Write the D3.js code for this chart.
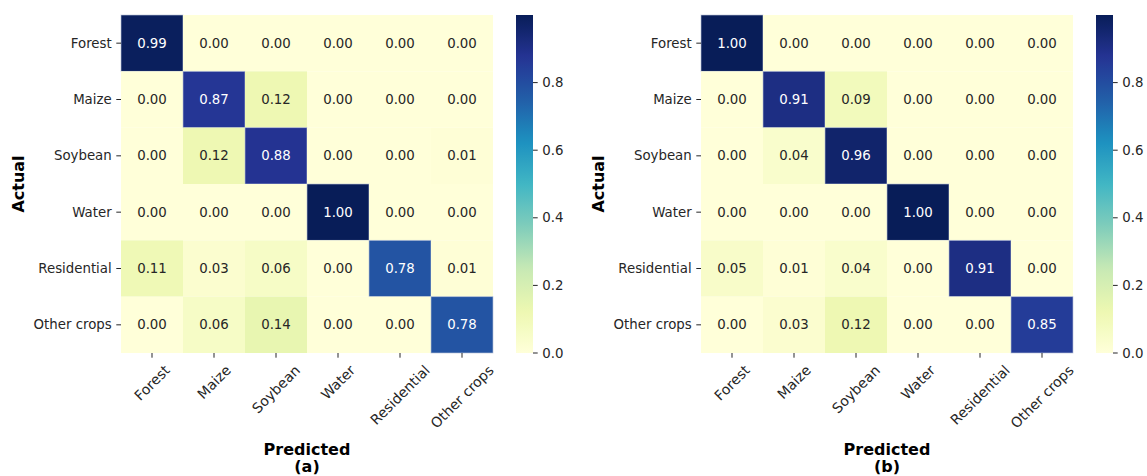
<!DOCTYPE html>
<html>
<head>
<meta charset="utf-8">
<script src="https://cdn.jsdelivr.net/npm/d3@7"></script>
<style>
  html, body { margin: 0; padding: 0; background: #ffffff; }
  svg { display: block; font-family: "DejaVu Sans", sans-serif; }
</style>
</head>
<body>
<svg id="chart" width="1147" height="476"></svg>
<script>
// Class labels (rows = actual, columns = predicted)
const classes = ["Forest", "Maize", "Soybean", "Water", "Residential", "Other crops"];

// Normalised confusion matrix, model (a)
const matrixA = [
  [0.99, 0.00, 0.00, 0.00, 0.00, 0.00],
  [0.00, 0.87, 0.12, 0.00, 0.00, 0.00],
  [0.00, 0.12, 0.88, 0.00, 0.00, 0.01],
  [0.00, 0.00, 0.00, 1.00, 0.00, 0.00],
  [0.11, 0.03, 0.06, 0.00, 0.78, 0.01],
  [0.00, 0.06, 0.14, 0.00, 0.00, 0.78]
];

// Normalised confusion matrix, model (b)
const matrixB = [
  [1.00, 0.00, 0.00, 0.00, 0.00, 0.00],
  [0.00, 0.91, 0.09, 0.00, 0.00, 0.00],
  [0.00, 0.04, 0.96, 0.00, 0.00, 0.00],
  [0.00, 0.00, 0.00, 1.00, 0.00, 0.00],
  [0.05, 0.01, 0.04, 0.00, 0.91, 0.00],
  [0.00, 0.03, 0.12, 0.00, 0.00, 0.85]
];

const colorbarTicks = [0.0, 0.2, 0.4, 0.6, 0.8];
const panelTags = ["(a)", "(b)"];

// YlGnBu colour ramp
const ylgnbu = ["#ffffd9", "#edf8b1", "#c7e9b4", "#7fcdbb", "#41b6c4",
                "#1d91c0", "#225ea8", "#253494", "#081d58"];

const svg = d3.select("#chart");
const textColor = "#262626";
const fs = 13.33;
const fsX = 14;

const W = 372, H = 338;           // heatmap size
const panelOffsets = [0, 580];

function drawPanel(matrix, tag, dx) {
  const g = svg.append("g").attr("transform", `translate(${121 + dx},15)`);
  const vmax = d3.max(matrix.flat());
  const color = d3.scaleLinear()
    .domain(ylgnbu.map((_, i) => i / (ylgnbu.length - 1) * vmax))
    .range(ylgnbu)
    .interpolate(d3.interpolateRgb)
    .clamp(true);

  const x = d3.scaleBand().domain(classes).range([0, W]);
  const y = d3.scaleBand().domain(classes).range([0, H]);

  const cells = [];
  matrix.forEach((row, i) => row.forEach((v, j) => cells.push({ a: classes[i], p: classes[j], v })));

  g.selectAll("rect.cell").data(cells).join("rect")
    .attr("class", "cell")
    .attr("x", d => x(d.p)).attr("y", d => y(d.a))
    .attr("width", x.bandwidth()).attr("height", y.bandwidth())
    .attr("fill", d => color(d.v))
    .attr("stroke", d => d.v > 0.5 ? "rgba(185,195,215,0.8)" : "none")
    .attr("stroke-width", 0.8);

  g.selectAll("text.val").data(cells).join("text")
    .attr("class", "val")
    .attr("x", d => x(d.p) + x.bandwidth() / 2)
    .attr("y", d => y(d.a) + y.bandwidth() / 2)
    .attr("text-anchor", "middle")
    .attr("dominant-baseline", "central")
    .attr("font-size", fs)
    .attr("fill", d => d.v > 0.5 ? "#ffffff" : textColor)
    .text(d => d.v.toFixed(2));

  // Y axis (actual)
  const yAxis = g.append("g");
  classes.forEach(c => {
    const cy = y(c) + y.bandwidth() / 2;
    yAxis.append("line").attr("x1", -4.7).attr("x2", 0).attr("y1", cy).attr("y2", cy)
      .attr("stroke", textColor).attr("stroke-width", 1);
    yAxis.append("text").attr("x", -9.3).attr("y", cy)
      .attr("text-anchor", "end").attr("dominant-baseline", "central")
      .attr("font-size", fs).attr("fill", textColor).text(c);
  });

  // X axis (predicted), labels rotated 45 degrees, centred under ticks
  const xAxis = g.append("g");
  classes.forEach(c => {
    const cx = x(c) + x.bandwidth() / 2;
    xAxis.append("line").attr("x1", cx).attr("x2", cx).attr("y1", H).attr("y2", H + 4.7)
      .attr("stroke", textColor).attr("stroke-width", 1);
    const t = xAxis.append("text")
      .attr("text-anchor", "middle").attr("dominant-baseline", "central")
      .attr("font-size", fsX).attr("fill", textColor).text(c);
    const w = t.node().getComputedTextLength();
    const h = fsX * 0.95;
    const cy = H + 10 + (w + h) * Math.SQRT1_2 / 2;
    t.attr("transform", `translate(${cx},${cy}) rotate(-45)`);
  });

  // Axis titles
  g.append("text")
    .attr("transform", `translate(${-103},${H / 2}) rotate(-90)`)
    .attr("text-anchor", "middle").attr("dominant-baseline", "central")
    .attr("font-size", 16).attr("font-weight", "bold").attr("fill", "#000")
    .text("Actual");
  g.append("text")
    .attr("x", W / 2).attr("y", 434)
    .attr("text-anchor", "middle").attr("dominant-baseline", "central")
    .attr("font-size", 16).attr("font-weight", "bold").attr("fill", "#000")
    .text("Predicted");
  g.append("text")
    .attr("x", W / 2).attr("y", 451)
    .attr("text-anchor", "middle").attr("dominant-baseline", "central")
    .attr("font-size", 16).attr("font-weight", "bold").attr("fill", "#000")
    .text(tag);

  // Colour bar
  const cbX = W + 23, cbW = 17;
  const cbScale = d3.scaleLinear().domain([0, vmax]).range([H, 0]);
  const gradId = "grad" + tag.replace(/\W/g, "");
  const grad = svg.append("defs").append("linearGradient")
    .attr("id", gradId).attr("x1", 0).attr("y1", 1).attr("x2", 0).attr("y2", 0);
  d3.range(0, 1.0001, 0.02).forEach(t => {
    grad.append("stop").attr("offset", t).attr("stop-color", color(t * vmax));
  });
  g.append("rect").attr("x", cbX).attr("y", 0).attr("width", cbW).attr("height", H)
    .attr("fill", `url(#${gradId})`);
  const cb = g.append("g");
  colorbarTicks.forEach(v => {
    const ty = cbScale(v);
    cb.append("line").attr("x1", cbX + cbW).attr("x2", cbX + cbW + 4.7)
      .attr("y1", ty).attr("y2", ty).attr("stroke", textColor).attr("stroke-width", 1);
    cb.append("text").attr("x", cbX + cbW + 9.3).attr("y", ty)
      .attr("dominant-baseline", "central").attr("font-size", fs).attr("fill", textColor)
      .text(d3.format(".1f")(v));
  });
}

drawPanel(matrixA, panelTags[0], panelOffsets[0]);
drawPanel(matrixB, panelTags[1], panelOffsets[1]);
</script>
</body>
</html>
